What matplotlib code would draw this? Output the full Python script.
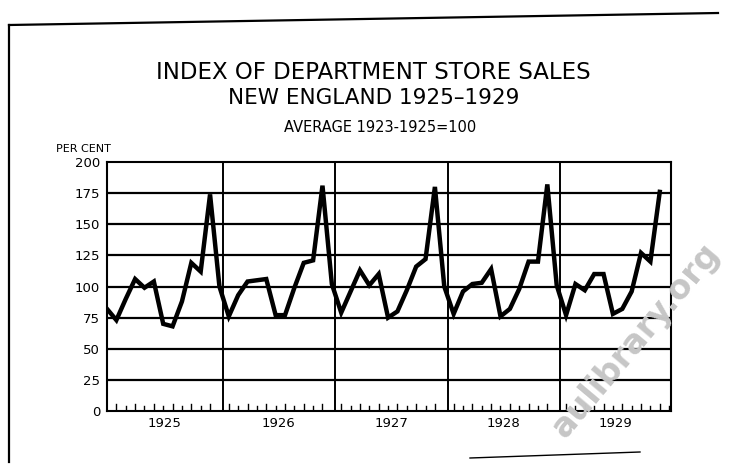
import numpy as np
import matplotlib.pyplot as plt
from matplotlib.lines import Line2D

# Monthly index of department store sales, New England (average 1923-1925 = 100)
years = [1925, 1926, 1927, 1928, 1929]
sales_1925 = [82, 73, 90, 106, 99, 104, 70, 68, 88, 119, 112, 174]
sales_1926 = [100, 76, 93, 104, 105, 106, 77, 77, 99, 119, 121, 181]
sales_1927 = [102, 79, 96, 113, 101, 110, 75, 80, 97, 116, 122, 180]
sales_1928 = [100, 78, 96, 102, 103, 114, 76, 82, 98, 120, 120, 182]
sales_1929 = [101, 77, 102, 97, 110, 110, 78, 82, 96, 127, 120, 176]
y_ticks = [0, 25, 50, 75, 100, 125, 150, 175, 200]

sales = sales_1925 + sales_1926 + sales_1927 + sales_1928 + sales_1929
months = np.arange(len(sales))

plt.rcParams['font.family'] = ['DejaVu Sans']

fig = plt.figure(figsize=(7.42, 4.65), dpi=100)
fig.patch.set_facecolor('white')

## Titles
fig.text(0.503, 0.845, "INDEX OF DEPARTMENT STORE SALES", ha='center', va='center',
         fontsize=16.5, color='black')
fig.text(0.503, 0.789, "NEW ENGLAND 1925\u20131929", ha='center', va='center',
         fontsize=15.5, color='black')
fig.text(0.512, 0.726, "AVERAGE 1923-1925=100", ha='center', va='center',
         fontsize=10.5, color='black')
fig.text(0.075, 0.680, "PER CENT", ha='left', va='center', fontsize=8, color='black')

## Hand drawn border around the sheet (top and left edges, part of the bottom)
border = fig.add_axes([0, 0, 1, 1], facecolor='none')
border.set_xlim(0, 742)
border.set_ylim(465, 0)
border.axis('off')
border.add_line(Line2D([9, 718], [25, 13], color='black', lw=1.6))
border.add_line(Line2D([9, 9], [25, 462], color='black', lw=1.6))
border.add_line(Line2D([470, 640], [458, 452], color='black', lw=1.0))

## Plot area
ax = fig.add_axes([107 / 742, 1 - 411 / 465, (671 - 107) / 742, (411 - 162) / 465])
ax.set_xlim(0, 60.2)
ax.set_ylim(0, 200)

for v in y_ticks[1:-1]:
    ax.axhline(v, color='black', lw=1.6, zorder=1)

# year dividers
dividers = [12 * k + 0.35 for k in range(1, len(years))]
for d in dividers:
    ax.axvline(d, color='black', lw=1.4, zorder=1)

ax.plot(months, sales, color='black', lw=3.2, solid_joinstyle='miter', zorder=3)

# month ticks along the base line
for m in range(1, 61):
    if any(abs(m - d) < 0.5 for d in dividers):
        continue
    h = 6 if m % 2 else 4
    ax.plot([m, m], [0, h], color='black', lw=1.0, zorder=2)

for s in ax.spines.values():
    s.set_linewidth(1.5)
    s.set_color('black')

ax.set_yticks(y_ticks)
ax.set_yticklabels([str(v) for v in y_ticks], fontsize=9.5)
ax.tick_params(axis='y', length=0, pad=5)

edges = [0] + dividers + [60.2]
centers = [(edges[k] + edges[k + 1]) / 2 for k in range(len(years))]
ax.set_xticks(centers)
ax.set_xticklabels([str(y) for y in years], fontsize=9.5)
ax.tick_params(axis='x', length=0, pad=4)

## Library stamp across the lower right corner
fig.text(0.735, 0.045, "aulibrary.org", rotation=50, fontsize=24, color='#c6c6c6',
         ha='left', va='bottom', fontweight='bold', zorder=0)

fig.savefig("out.png", dpi=100, facecolor='white')
